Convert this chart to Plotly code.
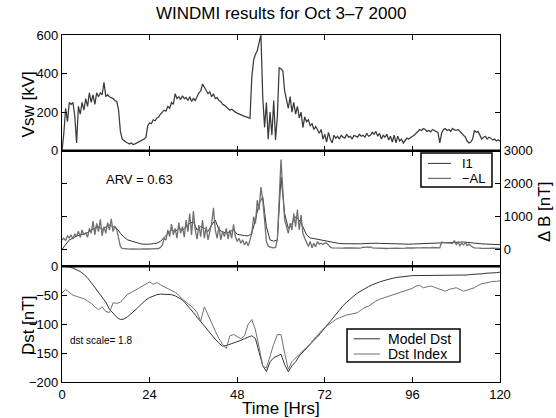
import numpy as np
import plotly.graph_objects as go
from plotly.subplots import make_subplots

# ---------------- data ----------------
# Solar wind driver Vsw [kV], every 0.5 hr from 0 to 120
vsw = [0, 90, 220, 150, 250, 240, 250, 180, 40, 230, 190, 250, 210, 270, 230, 300, 250, 290, 240, 300,
       280, 300, 290, 355, 280, 290, 280, 275, 270, 260, 255, 210, 100, 60, 50, 45, 40, 35, 40, 32,
       35, 40, 45, 50, 55, 60, 70, 130, 145, 140, 160, 155, 170, 175, 190, 200, 210, 205, 230, 220,
       250, 240, 295, 270, 280, 265, 285, 270, 275, 260, 280, 255, 270, 260, 280, 300, 310, 345, 330, 310,
       295, 305, 280, 295, 270, 275, 260, 255, 240, 235, 225, 220, 210, 215, 205, 200, 195, 190, 185, 182,
       178, 175, 170, 168, 380, 470, 500, 520, 560, 600, 280, 120, 250, 60, 200, 80, 260, 55, 180, 430,
       425, 415, 310, 260, 220, 280, 200, 250, 190, 230, 170, 200, 120, 175, 150, 160, 130, 140, 110, 125,
       105, 90, 110, 60, 85, 45, 95, 60, 40, 80, 65, 75, 60, 80, 70, 65, 85, 70, 75, 60,
       80, 75, 70, 85, 75, 80, 70, 90, 75, 80, 95, 85, 100, 75, 90, 60, 80, 70, 85, 55,
       75, 45, 80, 40, 75, 50, 60, 40, 55, 65, 60, 70, 75, 80, 90, 100, 110, 105, 115, 110,
       100, 105, 98, 110, 105, 100, 95, 40, 90, 110, 115, 105, 110, 100, 115, 108, 105, 110, 100, 95,
       80, 70, 50, 40, 45, 60, 105, 95, 100, 80, 60, 70, 75, 60, 70, 65, 55, 60, 50, 55,
       50]

# -AL index [nT], every 0.5 hr
minus_al = [300, 350, 280, 420, 360, 450, 330, 480, 400, 560, 380, 600, 450, 520, 380, 650, 500, 870, 450, 800,
            550, 920, 420, 700, 500, 820, 600, 940, 550, 720, 600, 300, 100, 40, 30, 25, 25, 20, 25, 20,
            22, 25, 20, 22, 25, 20, 25, 22, 25, 30, 28, 30, 35, 40, 80, 150, 350, 300, 600, 400,
            780, 450, 650, 350, 820, 500, 700, 380, 900, 550, 1100, 450, 1170, 600, 320, 750, 400, 900, 350, 700,
            300, 550, 800, 1270, 600, 350, 700, 300, 550, 400, 650, 320, 600, 350, 770, 400, 250, 350, 200, 300,
            150, 250, 120, 300, 500, 1000, 800, 1500, 1200, 1900, 1500, 900, 250, 110, 80, 70, 60, 70, 300, 1500,
            2730, 1800, 900, 700, 500, 800, 600, 1100, 700, 1220, 600, 1050, 500, 350, 200, 100, 250, 60, 200, 90,
            250, 170, 200, 160, 210, 200, 150, 80, 60, 55, 50, 55, 50, 45, 50, 55, 50, 45, 55, 60,
            55, 50, 45, 50, 60, 80, 75, 90, 70, 85, 60, 55, 50, 45, 50, 55, 50, 45, 40, 45,
            50, 45, 50, 55, 50, 45, 40, 45, 50, 55, 50, 45, 50, 55, 60, 55, 50, 60, 65, 60,
            70, 65, 60, 70, 65, 60, 55, 60, 230, 220, 210, 220, 200, 210, 190, 280, 150, 230, 120, 200,
            150, 220, 130, 170, 110, 80, 60, 50, 45, 50, 45, 40, 45, 40, 45, 50, 45, 40, 45, 40,
            40]

# Model I1 [nT], hourly
i1 = [10, 150, 300, 350, 420, 450, 480, 520, 600, 650, 700, 620, 680, 750, 700, 650, 500, 380, 300, 260,
      230, 200, 170, 165, 170, 185, 200, 260, 380, 480, 600, 550, 650, 600, 700, 800, 850, 600, 700, 650,
      550, 750, 900, 600, 550, 500, 550, 600, 470, 440, 430, 420, 500, 900, 1400, 1600, 700, 300, 260, 300,
      2200, 1100, 650, 800, 1000, 900, 700, 450, 360, 340, 320, 300, 280, 260, 220, 200, 190, 185, 180, 185,
      190, 185, 180, 190, 200, 210, 200, 195, 190, 185, 180, 185, 190, 185, 175, 170, 175, 180, 190, 200,
      205, 210, 215, 215, 220, 225, 230, 235, 240, 245, 235, 225, 210, 200, 190, 180, 175, 170, 165, 160,
      155]

# Dst index [nT], hourly
dst_index = [-46, -40, -45, -50, -52, -54, -56, -60, -64, -70, -75, -70, -78, -80, -63, -64, -62, -55, -48, -45,
             -42, -38, -34, -30, -27, -31, -28, -32, -35, -38, -42, -45, -50, -57, -62, -67, -72, -80, -95, -70,
             -85, -100, -112, -125, -135, -142, -120, -118, -122, -125, -120, -100, -92, -110, -140, -172, -176, -155, -135, -118,
             -118, -150, -178, -165, -158, -152, -146, -140, -134, -126, -118, -112, -106, -101, -96, -92, -89, -86, -84, -83,
             -82, -80, -75, -71, -69, -64, -60, -57, -55, -53, -50, -48, -46, -44, -42, -40, -38, -34, -33, -37,
             -36, -34, -36, -38, -41, -43, -40, -38, -37, -40, -43, -41, -39, -37, -33, -30, -29, -27, -26, -26,
             -25]

# Model Dst [nT], hourly
dst_model = [0, 0, -1, -3, -6, -9, -14, -20, -28, -36, -44, -52, -62, -74, -82, -88, -92, -91, -87, -82,
             -76, -70, -64, -58, -54, -51, -49, -48, -48, -48, -49, -51, -54, -58, -65, -72, -80, -88, -96, -104,
             -112, -118, -126, -133, -138, -137, -135, -133, -131, -128, -125, -122, -120, -125, -150, -172, -182, -165, -158, -155,
             -152, -170, -182, -172, -165, -155, -148, -142, -135, -128, -122, -114, -106, -98, -90, -82, -75, -68, -62, -56,
             -51, -46, -42, -38, -35, -32, -29, -27, -25, -23, -21, -20, -19, -18, -17, -17, -16, -16, -16, -16,
             -16, -16, -16, -16, -16, -16, -16, -16, -16, -16, -15, -15, -14, -14, -13, -13, -12, -12, -11, -11,
             -10]

x_ticks = [0, 24, 48, 72, 96, 120]
vsw_ticks = [0, 200, 400, 600]
db_ticks = [0, 1000, 2000, 3000]
dst_ticks = [-200, -150, -100, -50, 0]

legend1_names = ["I1", "\u2212AL"]
legend2_names = ["Model Dst", "Dst Index"]

assert len(vsw) == 241, len(vsw)
assert len(minus_al) == 241, len(minus_al)
assert len(i1) == 121 and len(dst_index) == 121 and len(dst_model) == 121

t_half = np.arange(len(vsw)) * 0.5
t_al = np.arange(len(minus_al)) * 0.5
t_hour = np.arange(len(i1)) * 1.0
t_dst = np.arange(len(dst_index)) * 1.0

FONT = "Liberation Sans, Arial, Helvetica, sans-serif"
DARK = "#333333"
GREY = "#707070"

fig = make_subplots(rows=3, cols=1, shared_xaxes=True, vertical_spacing=0)

fig.add_trace(go.Scatter(x=t_half, y=vsw, mode="lines", name="Vsw", line=dict(color="#3a3a3a", width=1.25),
                         showlegend=False), row=1, col=1)
fig.add_trace(go.Scatter(x=t_hour, y=i1, mode="lines", name=legend1_names[0], line=dict(color=DARK, width=1),
                         showlegend=False), row=2, col=1)
fig.add_trace(go.Scatter(x=t_al, y=minus_al, mode="lines", name=legend1_names[1], line=dict(color=GREY, width=1.3),
                         showlegend=False), row=2, col=1)
fig.add_trace(go.Scatter(x=t_dst, y=dst_model, mode="lines", name=legend2_names[0], line=dict(color=DARK, width=1),
                         showlegend=False), row=3, col=1)
fig.add_trace(go.Scatter(x=t_dst, y=dst_index, mode="lines", name=legend2_names[1], line=dict(color=GREY, width=1),
                         showlegend=False), row=3, col=1)

axis_common = dict(showline=True, linecolor="black", linewidth=1.2, mirror="ticks", ticks="inside",
                   ticklen=5, tickcolor="black", showgrid=False, zeroline=False,
                   tickfont=dict(family=FONT, size=13, color="black"))

for r in (1, 2, 3):
    fig.update_xaxes(range=[0, 120], tickvals=x_ticks, showticklabels=(r == 3), row=r, col=1, **axis_common)

fig.update_yaxes(range=[0, 600], tickvals=vsw_ticks, row=1, col=1, **axis_common)
fig.update_yaxes(range=[-500, 3000], tickvals=db_ticks, side="right", row=2, col=1, **axis_common)
fig.update_yaxes(range=[-200, 0], tickvals=dst_ticks, row=3, col=1, **axis_common)


def txt(text, x, y, size, xanchor="center", angle=0):
    return dict(text=text, x=x, y=y, xref="paper", yref="paper", showarrow=False, textangle=angle,
                font=dict(family=FONT, size=size, color="black"), xanchor=xanchor, yanchor="middle")


annotations = [
    txt("WINDMI results for Oct 3\u20137 2000", 0.5, 1.063, 17),
    txt("Vsw [kV]", -0.0776, 0.80, 17, angle=-90),
    txt("\u0394 B [nT]", 1.103, 0.49, 17, angle=-90),
    txt("Dst [nT]", -0.0776, 0.164, 17, angle=-90),
    txt("Time [Hrs]", 0.5, -0.075, 17),
    txt("ARV = 0.63", 0.178, 0.585, 13),
    txt("dst scale= 1.8", 0.0137, 0.121, 10, xanchor="left"),
    # legend texts
    txt(legend1_names[0], 0.9087, 0.630, 13, xanchor="left"),
    txt(legend1_names[1], 0.9087, 0.5867, 13, xanchor="left"),
    txt(legend2_names[0], 0.7386, 0.1245, 14, xanchor="left"),
    txt(legend2_names[1], 0.7386, 0.0807, 14, xanchor="left"),
]


def pline(x0, x1, y0, y1, color, width):
    return dict(type="line", xref="paper", yref="paper", x0=x0, x1=x1, y0=y0, y1=y1,
                line=dict(color=color, width=width))


shapes = [
    pline(0, 1, 2 / 3, 2 / 3, "black", 2.5),
    pline(0, 1, 1 / 3, 1 / 3, "black", 2.5),
    # legend 1 box and samples
    dict(type="rect", xref="paper", yref="paper", x0=0.8196, x1=0.9817, y0=0.562, y1=0.660,
         line=dict(color="black", width=1.5), fillcolor="white", layer="above"),
    pline(0.8356, 0.8881, 0.630, 0.630, DARK, 1),
    pline(0.8356, 0.8881, 0.5867, 0.5867, GREY, 1.3),
    # legend 2 box and samples
    dict(type="rect", xref="paper", yref="paper", x0=0.6507, x1=0.9087, y0=0.0576, y1=0.1527,
         line=dict(color="black", width=1.5), fillcolor="white", layer="above"),
    pline(0.6658, 0.7260, 0.1245, 0.1245, DARK, 1),
    pline(0.6658, 0.7260, 0.0807, 0.0807, GREY, 1),
]

fig.update_layout(
    width=556, height=418,
    margin=dict(l=62, r=56, t=35, b=36),
    paper_bgcolor="white", plot_bgcolor="white",
    font=dict(family=FONT, color="black"),
    annotations=annotations,
    shapes=shapes,
    showlegend=False,
)

fig.write_html("out.html")
